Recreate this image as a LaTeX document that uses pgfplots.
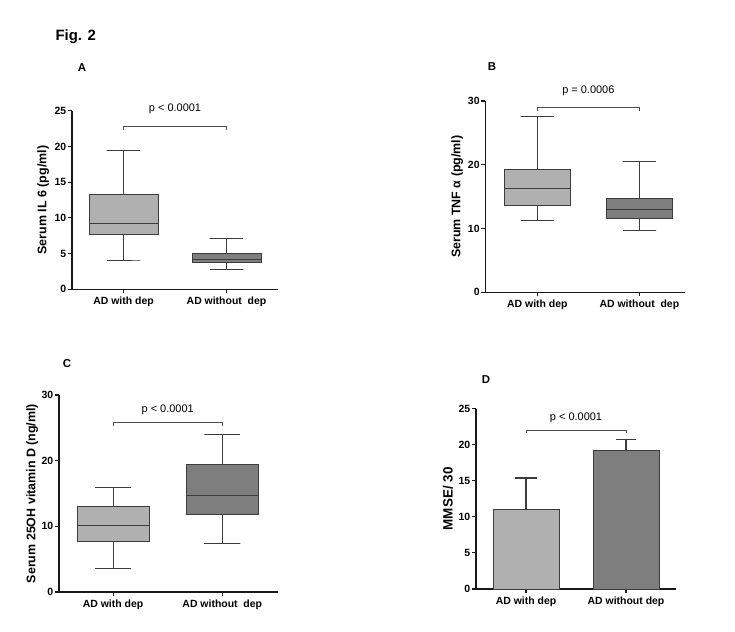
\documentclass[border=0pt]{standalone}
\usepackage{pgfplots}
\pgfplotsset{compat=1.18}
\usepackage{fontspec}
\setmainfont{Liberation Sans}
\definecolor{lightbox}{HTML}{B0B0B0}
\definecolor{darkbox}{HTML}{7E7E7E}
\definecolor{edge}{HTML}{3C3C3C}
\pgfplotsset{
 panel/.style={
  scale only axis, anchor=south west, clip=false,
  axis x line*=bottom, axis y line*=left,
  axis line style={line width=1.3bp, black!90, -},
  tick align=outside, major tick length=4bp,
  tick style={line width=1.1bp, black!90},
  xtick={1,2}, ymin=0,
  /pgf/number format/assume math mode=true,
  yticklabel style={font=\bfseries\fontsize{10.5}{12}\selectfont, inner sep=1.5bp},
  xticklabel style={font=\bfseries\fontsize{10.5}{12}\selectfont},
  ylabel style={font=\bfseries\fontsize{12.5}{14}\selectfont, at={(axis description cs:-0.14,0.5)}, anchor=center},
 },
 wh/.style={draw=edge, line width=0.8bp, mark=none},
 bx/.style={fill=#1, draw=edge, line width=0.8bp, mark=none},
}
\tikzset{pl/.style={font=\fontsize{11}{13}\selectfont}}
\begin{document}
\begin{tikzpicture}
\useasboundingbox (0bp,0bp) rectangle (735bp,632bp);
\node[anchor=west, font=\bfseries\fontsize{15}{17}\selectfont] at (52bp,595bp) {Fig. 2};
\node[font=\bfseries\fontsize{11.5}{13}\selectfont] at (82bp,564bp) {A};
\node[font=\bfseries\fontsize{11.5}{13}\selectfont] at (492bp,565bp) {B};
\node[font=\bfseries\fontsize{11.5}{13}\selectfont] at (67bp,268bp) {C};
\node[font=\bfseries\fontsize{11.5}{13}\selectfont] at (486bp,252bp) {D};

% Panel A
\begin{axis}[panel, at={(72bp,342.7bp)}, width=206bp, height=178.6bp,
  xmin=0.5, xmax=2.5, ymax=25, ytick={0,5,10,15,20,25},
  xticklabels={AD with dep, AD without~~dep}, ylabel={Serum IL 6 (pg/ml)}]
% AD with dep: whiskers 4.1 / 19.4, box 7.65-13.3, median 9.28
\addplot[wh] coordinates {(0.835,4.1) (1.165,4.1) (1,4.1) (1,7.65)};
\addplot[wh] coordinates {(1,13.3) (1,19.4) (0.835,19.4) (1.165,19.4)};
\addplot[bx=lightbox] coordinates {(0.665,7.65) (1.335,7.65) (1.335,13.3) (0.665,13.3)} -- cycle;
\addplot[wh] coordinates {(0.665,9.28) (1.335,9.28)};
% AD without dep: whiskers 2.8 / 7.09, box 3.78-4.99, median 4.24
\addplot[wh] coordinates {(1.835,2.8) (2.165,2.8) (2,2.8) (2,3.78)};
\addplot[wh] coordinates {(2,4.99) (2,7.09) (1.835,7.09) (2.165,7.09)};
\addplot[bx=darkbox] coordinates {(1.665,3.78) (2.335,3.78) (2.335,4.99) (1.665,4.99)} -- cycle;
\addplot[wh] coordinates {(1.665,4.24) (2.335,4.24)};
\draw[black!70, line width=0.8bp] (axis cs:1,22.3) |- (axis cs:2,22.76) -- (axis cs:2,22.3);
\node[pl] at (axis cs:1.5,25.3) {p < 0.0001};
\end{axis}

% Panel B
\begin{axis}[panel, at={(485.3bp,339.7bp)}, width=200bp, height=191.3bp,
  xmin=0.49, xmax=2.45, ymax=30, ytick={0,10,20,30},
  xticklabels={AD with dep, AD without~~dep}, ylabel={Serum TNF α (pg/ml)}]
\addplot[wh] coordinates {(0.835,11.29) (1.165,11.29) (1,11.29) (1,13.7)};
\addplot[wh] coordinates {(1,19.29) (1,27.6) (0.835,27.6) (1.165,27.6)};
\addplot[bx=lightbox] coordinates {(0.675,13.7) (1.325,13.7) (1.325,19.29) (0.675,19.29)} -- cycle;
\addplot[wh] coordinates {(0.675,16.36) (1.325,16.36)};
\addplot[wh] coordinates {(1.835,9.67) (2.165,9.67) (2,9.67) (2,11.6)};
\addplot[wh] coordinates {(2,14.74) (2,20.54) (1.835,20.54) (2.165,20.54)};
\addplot[bx=darkbox] coordinates {(1.675,11.6) (2.325,11.6) (2.325,14.74) (1.675,14.74)} -- cycle;
\addplot[wh] coordinates {(1.675,13.0) (2.325,13.0)};
\draw[black!70, line width=0.8bp] (axis cs:1,28.45) |- (axis cs:2,29.0) -- (axis cs:2,28.45);
\node[pl] at (axis cs:1.5,31.6) {p = 0.0006};
\end{axis}

% Panel C
\begin{axis}[panel, at={(59bp,40bp)}, width=219bp, height=197bp,
  xmin=0.505, xmax=2.51, ymax=30, ytick={0,10,20,30},
  xticklabels={AD with dep, AD without~~dep}, ylabel={Serum 25OH vitamin D (ng/ml)},
  ylabel style={at={(axis description cs:-0.123,0.5)}}]
\addplot[wh] coordinates {(0.835,3.6) (1.165,3.6) (1,3.6) (1,7.7)};
\addplot[wh] coordinates {(1,13.0) (1,15.9) (0.835,15.9) (1.165,15.9)};
\addplot[bx=lightbox] coordinates {(0.67,7.7) (1.33,7.7) (1.33,13.0) (0.67,13.0)} -- cycle;
\addplot[wh] coordinates {(0.67,10.15) (1.33,10.15)};
\addplot[wh] coordinates {(1.835,7.36) (2.165,7.36) (2,7.36) (2,11.83)};
\addplot[wh] coordinates {(2,19.4) (2,24.0) (1.835,24.0) (2.165,24.0)};
\addplot[bx=darkbox] coordinates {(1.67,11.83) (2.33,11.83) (2.33,19.4) (1.67,19.4)} -- cycle;
\addplot[wh] coordinates {(1.67,14.7) (2.33,14.7)};
\draw[black!70, line width=0.8bp] (axis cs:1,25.3) |- (axis cs:2,25.9) -- (axis cs:2,25.3);
\node[pl] at (axis cs:1.5,27.7) {p < 0.0001};
\end{axis}

% Panel D
\begin{axis}[panel, at={(476bp,43bp)}, width=200bp, height=180.3bp,
  xmin=0.5, xmax=2.5, ymax=25, ytick={0,5,10,15,20,25},
  xticklabels={AD with dep, AD without dep}, ylabel={MMSE/ 30},
  ylabel style={font=\bfseries\fontsize{13.5}{15}\selectfont}]
\addplot[ybar, bar width=0.66, bar shift=0pt, fill=lightbox, draw=edge, line width=0.8bp,
  error bars/.cd, y dir=plus, y explicit,
  error bar style={line width=1.3bp, edge},
  error mark options={rotate=90, mark size=11bp, line width=1.3bp, edge}]
  coordinates {(1,11.0) +- (0,4.39)};
\addplot[ybar, bar width=0.66, bar shift=0pt, fill=darkbox, draw=edge, line width=0.8bp,
  error bars/.cd, y dir=plus, y explicit,
  error bar style={line width=1.3bp, edge},
  error mark options={rotate=90, mark size=10bp, line width=1.3bp, edge}]
  coordinates {(2,19.22) +- (0,1.48)};
\draw[black!70, line width=0.8bp] (axis cs:1,21.67) |- (axis cs:2,22.04) -- (axis cs:2,21.67);
\node[pl] at (axis cs:1.5,23.8) {p < 0.0001};
\end{axis}
\end{tikzpicture}
\end{document}
